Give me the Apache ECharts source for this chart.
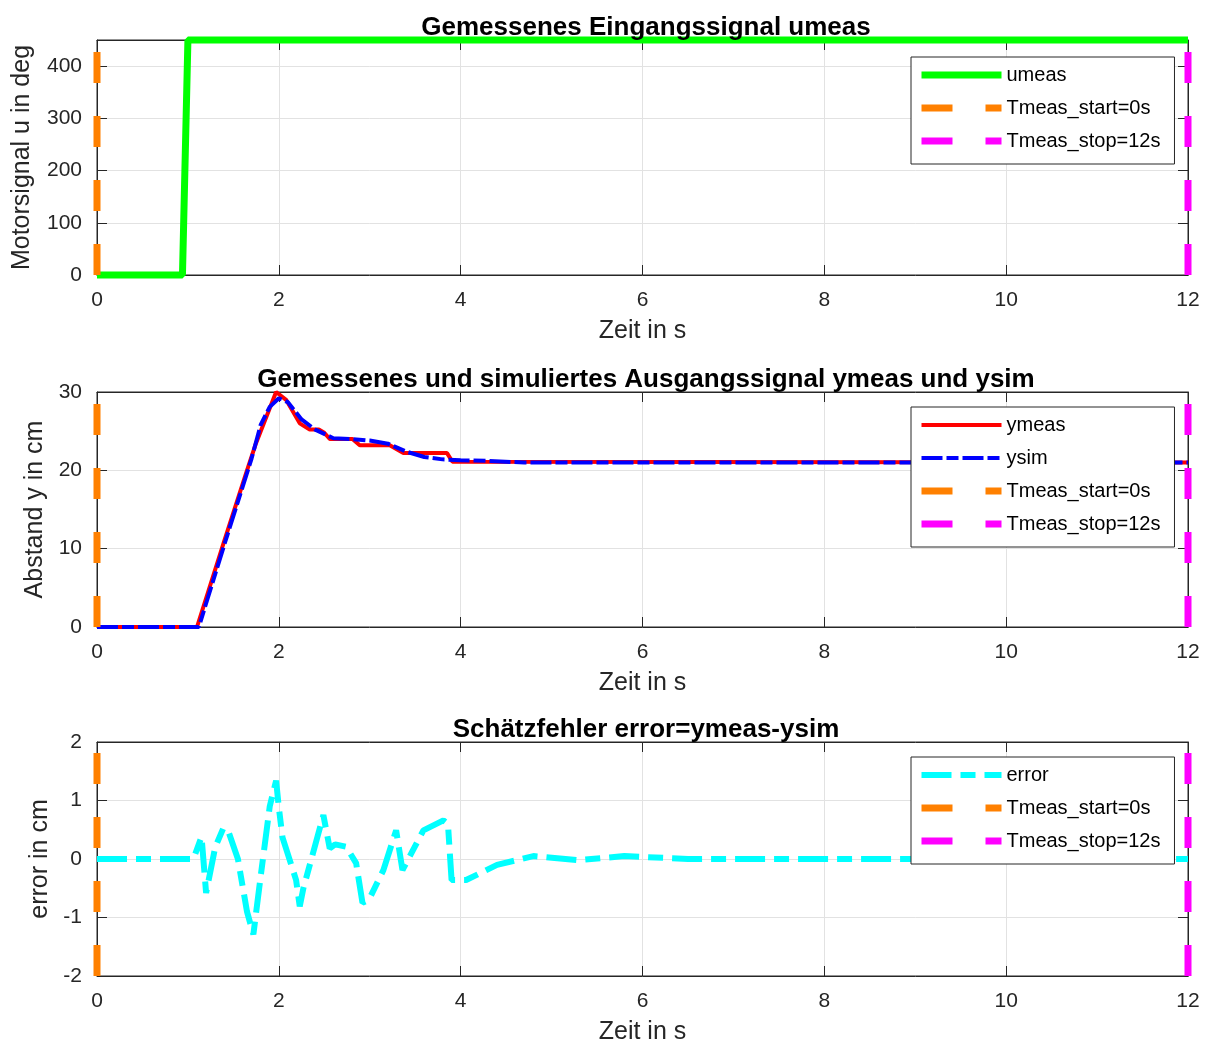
<!DOCTYPE html>
<html>
<head>
<meta charset="utf-8">
<script src="https://cdn.jsdelivr.net/npm/echarts@6/dist/echarts.min.js"></script>
<style>
html,body{margin:0;padding:0;background:#fff;}
#chart{width:1209px;height:1046px;}
</style>
</head>
<body>
<div id="chart"></div>
<script>
// --- data ---
var tUmeas = [0, 0.94, 1.0, 12];
var umeas  = [0, 0, 450, 450];

var tYmeas = [0, 1.1, 1.4, 1.65, 1.75, 1.97, 2.08, 2.23, 2.34, 2.44, 2.5, 2.56, 2.81, 2.89, 3.22, 3.37, 3.85, 3.91, 12];
var ymeas  = [0, 0, 11, 20, 23.5, 30, 29, 26, 25.2, 25.2, 24.8, 24, 24, 23.2, 23.2, 22.2, 22.2, 21.1, 21];

var tYsim = [0, 1.12, 1.4, 1.7, 1.8, 1.9, 2.0, 2.1, 2.25, 2.4, 2.6, 2.8, 3.0, 3.2, 3.4, 3.6, 3.8, 4.0, 4.3, 4.7, 12];
var ysim  = [0, 0, 10.5, 21.5, 25.8, 28.1, 29.2, 28.7, 26.5, 25.2, 24.1, 24, 23.8, 23.4, 22.4, 21.7, 21.4, 21.3, 21.2, 21.0, 21.0];

var tErr = [0, 1.06, 1.15, 1.2, 1.3, 1.39, 1.45, 1.55, 1.65, 1.72, 1.8, 1.9, 1.97, 2.0, 2.04, 2.19, 2.23, 2.27, 2.49, 2.56, 2.62, 2.74,
            2.85, 2.92, 2.99, 3.15, 3.29, 3.36, 3.59, 3.81, 3.86, 3.9, 4.06, 4.4, 4.8, 5.3, 5.8, 6.5, 12];
var err  = [0, 0, 0.38, -0.58, 0.2, 0.53, 0.45, 0.0, -0.9, -1.29, -0.3, 0.9, 1.34, 0.88, 0.37, -0.36, -0.81, -0.5, 0.75, 0.18, 0.25, 0.21,
            -0.07, -0.75, -0.7, -0.19, 0.49, -0.19, 0.49, 0.66, 0.6, -0.36, -0.36, -0.1, 0.05, -0.02, 0.05, 0, 0];

var xTickStep = 2;
var tStart = 0, tStop = 12;

var titles = ['Gemessenes Eingangssignal umeas',
              'Gemessenes und simuliertes Ausgangssignal ymeas und ysim',
              'Schätzfehler error=ymeas-ysim'];
var yNames = ['Motorsignal u in deg', 'Abstand y in cm', 'error in cm'];
var yRanges = [[0, 450, 100], [0, 30, 10], [-2, 2, 1]];

var FONT = '"Liberation Sans", Arial, sans-serif';
var AX = '#262626';
var gridTops = [40, 392, 742];
var yNameGaps = [62, 49, 44];

function zip(xs, ys) {
  return xs.map(function (x, i) { return [x, ys[i]]; });
}

var myChart = echarts.init(document.getElementById('chart'));

var grids = [], xAxes = [], yAxes = [], titleOpts = [], series = [], legends = [];

for (var i = 0; i < 3; i++) {
  grids.push({left: 97, right: 21, top: gridTops[i], height: 235,
              show: true, borderColor: AX, borderWidth: 1});
  titleOpts.push({
    text: titles[i], left: 641, textAlign: 'center', top: gridTops[i] - 30,
    textStyle: {fontSize: 26, fontWeight: 'bold', color: '#000', fontFamily: FONT}
  });
  // bottom + top x axis
  xAxes.push({
    gridIndex: i, type: 'value', min: 0, max: 12, interval: xTickStep, position: 'bottom',
    axisLine: {show: true, onZero: false, lineStyle: {color: AX}},
    axisTick: {inside: true, length: 10, lineStyle: {color: AX}},
    axisLabel: {fontSize: 21, color: AX, margin: 15, fontFamily: FONT},
    splitLine: {show: true, lineStyle: {color: '#e2e2e2'}},
    name: 'Zeit in s', nameLocation: 'middle', nameGap: 44,
    nameTextStyle: {fontSize: 25, color: AX, fontFamily: FONT}
  });
  xAxes.push({
    gridIndex: i, type: 'value', min: 0, max: 12, interval: xTickStep, position: 'top',
    axisLine: {show: true, onZero: false, lineStyle: {color: AX}},
    axisTick: {inside: true, length: 10, lineStyle: {color: AX}},
    axisLabel: {show: false}, splitLine: {show: false}
  });
  var r = yRanges[i];
  yAxes.push({
    gridIndex: i, type: 'value', min: r[0], max: r[1], interval: r[2], position: 'left',
    axisLine: {show: true, onZero: false, lineStyle: {color: AX}},
    axisTick: {show: true, inside: true, length: 10, lineStyle: {color: AX}},
    axisLabel: {fontSize: 21, color: AX, margin: 15, fontFamily: FONT, showMaxLabel: i !== 0},
    splitLine: {show: true, lineStyle: {color: '#e2e2e2'}},
    name: yNames[i], nameLocation: 'middle', nameGap: yNameGaps[i], nameRotate: 90,
    nameTextStyle: {fontSize: 25, color: AX, fontFamily: FONT}
  });
  yAxes.push({
    gridIndex: i, type: 'value', min: r[0], max: r[1], interval: r[2], position: 'right',
    axisLine: {show: true, onZero: false, lineStyle: {color: AX}},
    axisTick: {show: true, inside: true, length: 10, lineStyle: {color: AX}},
    axisLabel: {show: false}, splitLine: {show: false}
  });
}

function line(name, gi, data, color, width, type) {
  return {
    name: name, type: 'line', xAxisIndex: gi * 2, yAxisIndex: gi * 2,
    data: data, symbol: 'none', clip: false, animation: false,
    lineStyle: {color: color, width: width, type: type || 'solid'},
    itemStyle: {color: color}
  };
}

function marker(name, gi, t, color) {
  var r = yRanges[gi];
  return line(name, gi, [[t, r[0]], [t, r[1]]], color, 7, [31, 33]);
}

series.push(line('umeas', 0, zip(tUmeas, umeas), '#00ff00', 7));
series.push(line('ymeas', 1, zip(tYmeas, ymeas), '#ff0000', 4));
series.push(line('ysim', 1, zip(tYsim, ysim), '#0000ff', 4, [21, 4, 12, 4]));
series.push(line('error', 2, zip(tErr, err), '#00ffff', 6, [30, 9, 15, 9]));
for (var g = 0; g < 3; g++) {
  series.push(marker('Tmeas_start=0s', g, tStart, '#ff8000'));
  series.push(marker('Tmeas_stop=12s', g, tStop, '#ff00ff'));
}

// legend entries: name + icon line width
var iconWidth = {'umeas': 7, 'ymeas': 4, 'ysim': 4, 'error': 6, 'Tmeas_start=0s': 7, 'Tmeas_stop=12s': 7};
var legendData = [['umeas', 'Tmeas_start=0s', 'Tmeas_stop=12s'],
                  ['ymeas', 'ysim', 'Tmeas_start=0s', 'Tmeas_stop=12s'],
                  ['error', 'Tmeas_start=0s', 'Tmeas_stop=12s']];
var legendTops = [57, 407, 757];
for (var k = 0; k < 3; k++) {
  legends.push({
    data: legendData[k].map(function (n) {
      return {name: n, lineStyle: {width: iconWidth[n]}};
    }),
    orient: 'vertical', left: 911, top: legendTops[k],
    itemWidth: 80, itemHeight: 14, itemGap: 13, selectedMode: false,
    itemStyle: {opacity: 0},
    textStyle: {fontSize: 20, color: '#000', fontFamily: FONT},
    borderColor: AX, borderWidth: 1, backgroundColor: '#fff',
    padding: [8, 14, 13, 7]
  });
}

var option = {
  backgroundColor: '#fff',
  animation: false,
  title: titleOpts,
  grid: grids,
  xAxis: xAxes,
  yAxis: yAxes,
  legend: legends,
  series: series
};
myChart.setOption(option);
</script>
</body>
</html>
